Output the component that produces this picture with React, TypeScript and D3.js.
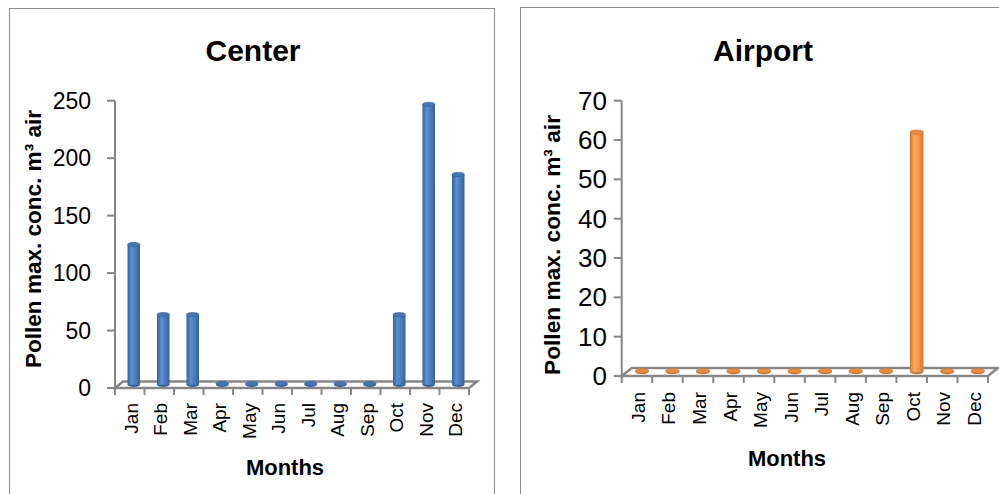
import React from "react";
import * as d3 from "d3";

// Monthly maximum pollen concentrations (grains per m³ of air)
const months = ["Jan", "Feb", "Mar", "Apr", "May", "Jun", "Jul", "Aug", "Sep", "Oct", "Nov", "Dec"];
const centerValues = [122, 61, 61, 0, 0, 0, 0, 0, 0, 61, 244, 183];
const airportValues = [0, 0, 0, 0, 0, 0, 0, 0, 0, 61, 0, 0];
const centerTicks = [0, 50, 100, 150, 200, 250];
const airportTicks = [0, 10, 20, 30, 40, 50, 60, 70];

const yTitle = "Pollen max. conc. m³ air";
const xTitle = "Months";
const FONT = "'Liberation Sans', Arial, sans-serif";
const AXIS = "#868686";

type PanelProps = {
  id: string;
  title: string;
  values: number[];
  ticks: number[];
  yMax: number;
  frame: { x: number; y: number; w: number; h: number };
  x0: number; x1: number; y0: number; yTop: number;
  dx: number; dy: number; barW: number;
  titleX: number; titleY: number;
  yTitleX: number; yTitleY: number; yTitleLen: number;
  tickLabelX: number; tickFont: number;
  monthY: number; xTitleX: number; xTitleY: number;
  colors: { dark: string; mid: string; light: string; cap: string };
};

function Panel(p: PanelProps) {
  const x = d3.scaleBand<string>().domain(months).range([p.x0, p.x1]).padding(0);
  const y = d3.scaleLinear().domain([0, p.yMax]).range([p.y0, p.yTop]);
  const bw = x.bandwidth();
  const boundaries = d3.range(months.length + 1).map((i) => p.x0 + i * bw);
  const floor = [
    [p.x0, p.y0],
    [p.x1, p.y0],
    [p.x1 + p.dx, p.y0 + p.dy],
    [p.x0 + p.dx, p.y0 + p.dy],
  ];
  const gid = `grad-${p.id}`;
  const rx = p.barW / 2;
  const ry = 2.2;
  return (
    <g>
      <defs>
        <linearGradient id={gid} x1="0" x2="1" y1="0" y2="0">
          <stop offset="0%" stopColor={p.colors.dark} />
          <stop offset="35%" stopColor={p.colors.light} />
          <stop offset="65%" stopColor={p.colors.mid} />
          <stop offset="100%" stopColor={p.colors.dark} />
        </linearGradient>
      </defs>
      <rect x={p.frame.x} y={p.frame.y} width={p.frame.w} height={p.frame.h} fill="#fff" stroke="#8e8e8e" strokeWidth={1} />
      <text x={p.titleX} y={p.titleY} textAnchor="middle" dominantBaseline="central" fontFamily={FONT} fontWeight="bold" fontSize={30} fill="#000">
        {p.title}
      </text>
      {/* floor of the 3D plot */}
      <polygon points={floor.map((d) => d.join(",")).join(" ")} fill="none" stroke={AXIS} strokeWidth={2.5} strokeLinejoin="miter" />
      {/* value axis */}
      <line x1={p.x0} x2={p.x0} y1={p.yTop} y2={p.y0} stroke={AXIS} strokeWidth={2} />
      {p.ticks.map((t) => (
        <g key={t}>
          <line x1={p.x0 - 8} x2={p.x0} y1={y(t)} y2={y(t)} stroke={AXIS} strokeWidth={2} />
          <text x={p.tickLabelX} y={y(t)} textAnchor="end" dominantBaseline="central" fontFamily={FONT} fontSize={p.tickFont} fill="#000">
            {t}
          </text>
        </g>
      ))}
      {/* category ticks */}
      {boundaries.map((bx, i) => (
        <line key={i} x1={bx} x2={bx} y1={p.y0} y2={p.y0 + 7} stroke={AXIS} strokeWidth={2} />
      ))}
      {months.map((m) => {
        const cx = (x(m) as number) + bw / 2 + 1.5;
        return (
          <text key={m} transform={`translate(${cx},${p.monthY}) rotate(-90)`} textAnchor="end" dominantBaseline="central" fontFamily={FONT} fontSize={19} fill="#000">
            {m}
          </text>
        );
      })}
      {/* cylinders */}
      {p.values.map((v, i) => {
        const cx = (x(months[i]) as number) + bw / 2 + p.dx / 2;
        const base = p.y0 + p.dy / 2;
        const top = y(v) + p.dy / 2 - (v === 0 ? 1.2 : 0);
        return (
          <g key={i}>
            <ellipse cx={cx} cy={base} rx={rx} ry={ry} fill={p.colors.dark} />
            <rect x={cx - rx} y={top} width={p.barW} height={base - top} fill={`url(#${gid})`} />
            <ellipse cx={cx} cy={top} rx={rx} ry={ry} fill={p.colors.cap} stroke={p.colors.dark} strokeWidth={0.6} />
          </g>
        );
      })}
      <text transform={`translate(${p.yTitleX},${p.yTitleY}) rotate(-90)`} textAnchor="middle" dominantBaseline="central" fontFamily={FONT} fontWeight="bold" fontSize={22} textLength={p.yTitleLen} lengthAdjust="spacingAndGlyphs" fill="#000">
        {yTitle}
      </text>
      <text x={p.xTitleX} y={p.xTitleY} textAnchor="middle" dominantBaseline="central" fontFamily={FONT} fontWeight="bold" fontSize={22} fill="#000">
        {xTitle}
      </text>
    </g>
  );
}

export default function App() {
  return (
    <svg width={999} height={494} style={{ position: "absolute", left: 0, top: 0, background: "#fff" }}>
      <Panel
        id="center"
        title="Center"
        values={centerValues}
        ticks={centerTicks}
        yMax={250}
        frame={{ x: 9.5, y: 8.5, w: 485, h: 500 }}
        x0={115} x1={469} y0={388} yTop={100.7}
        dx={8} dy={-6.5} barW={12.5}
        titleX={253} titleY={50}
        yTitleX={33} yTitleY={239} yTitleLen={258}
        tickLabelX={91} tickFont={23}
        monthY={403} xTitleX={285} xTitleY={467}
        colors={{ dark: "#36619a", mid: "#4a7cba", light: "#5b90d2", cap: "#4675b2" }}
      />
      <Panel
        id="airport"
        title="Airport"
        values={airportValues}
        ticks={airportTicks}
        yMax={70}
        frame={{ x: 520.5, y: 7.5, w: 500, h: 500 }}
        x0={621.7} x1={988} y0={376} yTop={100.7}
        dx={10} dy={-8} barW={13.5}
        titleX={763} titleY={50}
        yTitleX={552} yTitleY={245} yTitleLen={260}
        tickLabelX={607} tickFont={26}
        monthY={392} xTitleX={787} xTitleY={458}
        colors={{ dark: "#c77a38", mid: "#f79646", light: "#fdaa5e", cap: "#e98c40" }}
      />
    </svg>
  );
}
